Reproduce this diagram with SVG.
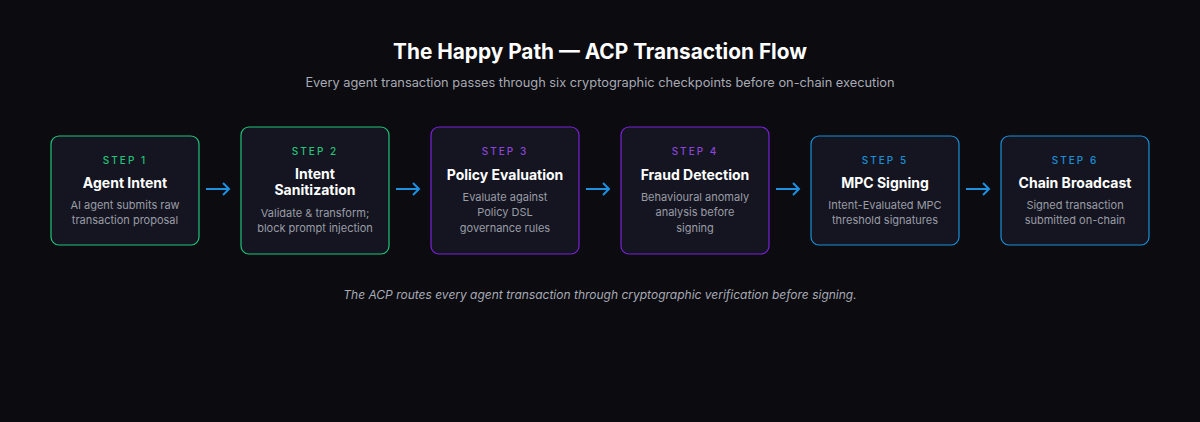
<svg xmlns="http://www.w3.org/2000/svg" width="1200" height="422" viewBox="0 0 1200 422">
<style>
.box{fill:#141520;stroke-width:1.2}
.g{stroke:#22c47a}.p{stroke:#7b22d6}.b{stroke:#1a8fd8}
.st{font:500 10px Inter,"Liberation Sans",sans-serif;letter-spacing:2px;text-anchor:middle}
.sg{fill:#22c47a}.sp{fill:#8b45d9}.sb{fill:#1a8fd8}
.t{font:700 14px Inter,"Liberation Sans",sans-serif;fill:#ffffff;text-anchor:middle}
.d{font:400 11px Inter,"Liberation Sans",sans-serif;fill:#9a9ca6;text-anchor:middle}
.a{stroke:#1e90e0;stroke-width:2;fill:none}
</style>
<rect width="1200" height="422" fill="#0b0b10"/>
<text x="600" y="59" text-anchor="middle" font-family="Inter,'Liberation Sans',sans-serif" font-weight="700" font-size="20.8" fill="#fff">The Happy Path — ACP Transaction Flow</text>
<text x="600" y="87" text-anchor="middle" font-family="Inter,'Liberation Sans',sans-serif" font-size="12.8" fill="#a8aab4">Every agent transaction passes through six cryptographic checkpoints before on-chain execution</text>
<g id="n1"><rect class="box g" x="51" y="136" width="148" height="109" rx="8"/><text class="st sg" x="125" y="164">STEP 1</text><text class="t" x="125" y="188">Agent Intent</text><text class="d" x="125" y="209">AI agent submits raw</text><text class="d" x="125" y="224">transaction proposal</text></g>
<g id="n2"><rect class="box g" x="241" y="127" width="148" height="127" rx="8"/><text class="st sg" x="315" y="155">STEP 2</text><text class="t" x="315" y="179">Intent</text><text class="t" x="315" y="195">Sanitization</text><text class="d" x="315" y="217">Validate &amp; transform;</text><text class="d" x="315" y="232">block prompt injection</text></g>
<g id="n3"><rect class="box p" x="431" y="127" width="148" height="127" rx="8"/><text class="st sp" x="505" y="155">STEP 3</text><text class="t" x="505" y="180">Policy Evaluation</text><text class="d" x="505" y="201">Evaluate against</text><text class="d" x="505" y="216">Policy DSL</text><text class="d" x="505" y="232">governance rules</text></g>
<g id="n4"><rect class="box p" x="621" y="127" width="148" height="127" rx="8"/><text class="st sp" x="695" y="155">STEP 4</text><text class="t" x="695" y="180">Fraud Detection</text><text class="d" x="695" y="201">Behavioural anomaly</text><text class="d" x="695" y="216">analysis before</text><text class="d" x="695" y="232">signing</text></g>
<g id="n5"><rect class="box b" x="811" y="136" width="148" height="109" rx="8"/><text class="st sb" x="885" y="164">STEP 5</text><text class="t" x="885" y="188">MPC Signing</text><text class="d" x="885" y="209">Intent-Evaluated MPC</text><text class="d" x="885" y="224">threshold signatures</text></g>
<g id="n6"><rect class="box b" x="1001" y="136" width="148" height="109" rx="8"/><text class="st sb" x="1075" y="164">STEP 6</text><text class="t" x="1075" y="188">Chain Broadcast</text><text class="d" x="1075" y="209">Signed transaction</text><text class="d" x="1075" y="224">submitted on-chain</text></g>
<g id="connectors">
<path class="a" d="M206 189H229M223 183L229 189L223 195"/>
<path class="a" d="M396 189H419M413 183L419 189L413 195"/>
<path class="a" d="M586 189H609M603 183L609 189L603 195"/>
<path class="a" d="M776 189H799M793 183L799 189L793 195"/>
<path class="a" d="M966 189H989M983 183L989 189L983 195"/>
</g>
<text x="600" y="299" text-anchor="middle" font-family="Inter,'Liberation Sans',sans-serif" font-style="italic" font-size="12" fill="#a8aab4">The ACP routes every agent transaction through cryptographic verification before signing.</text>
</svg>
